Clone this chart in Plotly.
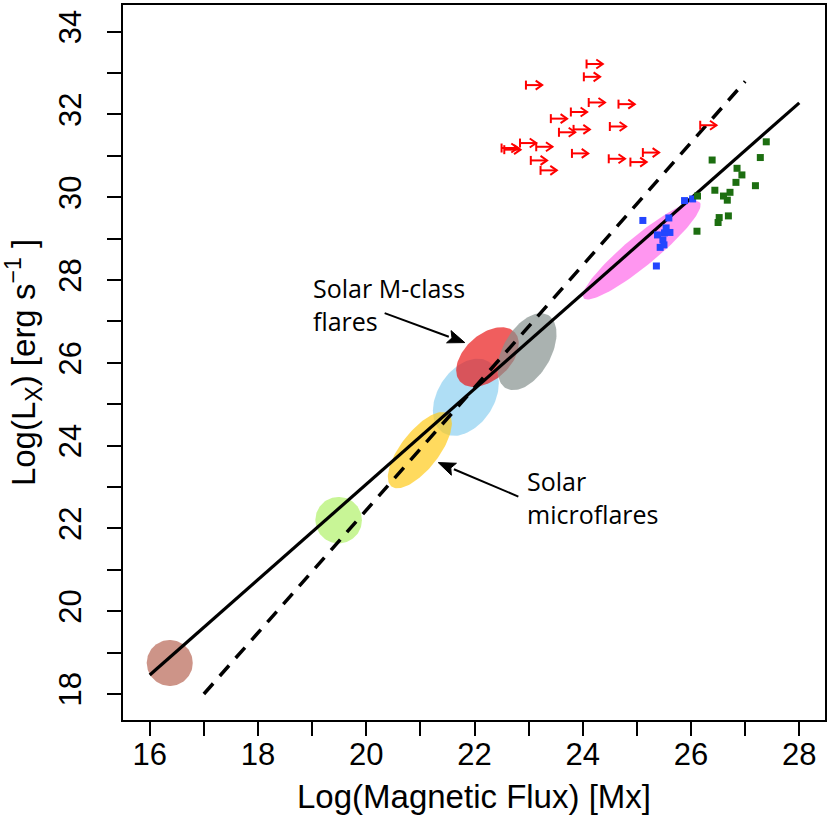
import numpy as np
import plotly.graph_objects as go

# ---------------- data ----------------
# best-fit relations (log flux -> log Lx)
solid_x = [16.0, 28.0]
solid_y = [18.46, 32.28]
dash_x = [17.0, 27.0]
dash_y = [18.0, 32.8]

# blue squares
blue_x = [25.88, 26.03, 25.11, 25.59, 25.61, 25.51, 25.38, 25.48, 25.43, 25.50, 25.36, 25.54]
blue_y = [29.92, 29.96, 29.44, 29.50, 29.15, 29.14, 29.09, 28.97, 28.79, 28.85, 28.34, 29.26]

# green squares
green_x = [27.39, 26.39, 27.28, 26.85, 26.94, 26.83, 27.19, 26.44, 26.72, 26.60, 26.67,
           26.12, 26.69, 26.52, 26.50, 26.11]
green_y = [31.34, 30.90, 30.96, 30.70, 30.54, 30.36, 30.28, 30.17, 30.12, 30.03, 29.93,
           30.03, 29.55, 29.51, 29.39, 29.18]

# red lower limits on flux (bar at value, arrow to the right)
lim_x = [24.07, 24.02, 22.95, 24.11, 24.66, 23.78, 23.41, 23.56, 23.83, 24.50, 22.50, 22.55,
         22.84, 23.14, 23.80, 24.48, 23.04, 23.22, 25.11, 24.88, 26.17]
lim_y = [33.22, 32.91, 32.71, 32.29, 32.25, 32.06, 31.90, 31.57, 31.64, 31.71, 31.19, 31.15,
         31.31, 31.22, 31.06, 30.93, 30.89, 30.65, 31.08, 30.85, 31.74]
lim_len = 0.3

# shaded regions (centre, semi-axes in x units, tilt in degrees)
ell_cx = [16.37, 19.49, 21.84, 20.99, 22.24, 22.97, 25.09]
ell_cy = [18.75, 22.20, 25.17, 23.89, 26.14, 26.27, 28.72]
ell_a = [0.425, 0.43, 0.78, 0.85, 0.68, 0.78, 1.39]
ell_b = [0.425, 0.43, 0.52, 0.35, 0.42, 0.44, 0.28]
ell_ang = [0, 0, 57, 52, 42, 60, 39.5]
ell_col = ["rgba(184,102,85,0.7)", "rgba(176,241,105,0.7)", "rgba(141,208,241,0.7)",
           "rgba(255,202,26,0.7)", "rgba(234,25,25,0.7)", "rgba(134,145,142,0.7)",
           "rgba(255,105,234,0.7)"]

# pointer labels: text position, arrow tail and head
lab_text = ["Solar M-class<br>flares", "Solar<br>microflares"]
lab_x = [18.98, 22.93]
lab_y = [27.42, 22.75]
ptr_x0 = [20.34, 22.81]
ptr_y0 = [27.20, 22.77]
ptr_x1 = [21.82, 21.33]
ptr_y1 = [26.49, 23.59]

# ---------------- layout geometry ----------------
W, H = 831, 829
ML, MR, MT, MB = 123, 6, 5, 109
XR = [15.506, 28.475]
YR = [17.372, 34.645]
sx = (W - ML - MR) / (XR[1] - XR[0])   # px per x unit
sy = (H - MT - MB) / (YR[1] - YR[0])   # px per y unit
k = sy / sx

fig = go.Figure()

t = np.linspace(0, 2 * np.pi, 120)
for cx, cy, a, b, ang, col in zip(ell_cx, ell_cy, ell_a, ell_b, ell_ang, ell_col):
    th = np.radians(ang)
    u = a * np.cos(t)
    v = b * np.sin(t)
    dx = u * np.cos(th) - v * np.sin(th)
    dy = (u * np.sin(th) + v * np.cos(th)) / k
    fig.add_trace(go.Scatter(x=cx + dx, y=cy + dy, mode="lines", fill="toself",
                             fillcolor=col, line=dict(width=0), hoverinfo="skip",
                             showlegend=False))

fig.add_trace(go.Scatter(x=solid_x, y=solid_y, mode="lines",
                         line=dict(color="black", width=3.2), showlegend=False))
fig.add_trace(go.Scatter(x=dash_x, y=dash_y, mode="lines",
                         line=dict(color="black", width=3.5, dash="14px,10px"),
                         showlegend=False))

fig.add_trace(go.Scatter(x=blue_x, y=blue_y, mode="markers",
                         marker=dict(symbol="square", size=7, color="#2345ff"),
                         showlegend=False))
fig.add_trace(go.Scatter(x=green_x, y=green_y, mode="markers",
                         marker=dict(symbol="square", size=7, color="#1c6e10"),
                         showlegend=False))

# limit symbols: bar + shaft + open head, built from lim_x / lim_y
bar_h = 4.5 / sy
head_l = 6.5 / sx
head_w = 4.5 / sy
sym_x, sym_y = [], []
for lx, ly in zip(lim_x, lim_y):
    tip = lx + lim_len
    sym_x += [lx, lx, None, lx, tip, None, tip - head_l, tip, tip - head_l, None]
    sym_y += [ly - bar_h, ly + bar_h, None, ly, ly, None, ly + head_w, ly, ly - head_w, None]
fig.add_trace(go.Scatter(x=sym_x, y=sym_y, mode="lines",
                         line=dict(color="red", width=2), hoverinfo="skip",
                         showlegend=False))

# pointer arrows (shaft + filled head)
for x0, y0, x1, y1 in zip(ptr_x0, ptr_y0, ptr_x1, ptr_y1):
    px, py = (x1 - x0) * sx, (y1 - y0) * sy
    L = np.hypot(px, py)
    ux, uy = px / L, py / L
    hl, hw = 17.0, 6.5
    bx, by = -ux * hl, -uy * hl
    nx, ny = -uy * hw, ux * hw
    base_x = x1 + bx / sx
    base_y = y1 + by / sy
    fig.add_trace(go.Scatter(x=[x0, base_x], y=[y0, base_y], mode="lines",
                             line=dict(color="black", width=2), hoverinfo="skip",
                             showlegend=False))
    fig.add_trace(go.Scatter(
        x=[x1, base_x + nx / sx, x1 + bx * 0.8 / sx, base_x - nx / sx, x1],
        y=[y1, base_y + ny / sy, y1 + by * 0.8 / sy, base_y - ny / sy, y1],
        mode="lines", fill="toself", fillcolor="black",
        line=dict(color="black", width=1), hoverinfo="skip", showlegend=False))

annotations = []
for tx, ty, tt in zip(lab_x, lab_y, lab_text):
    annotations.append(dict(x=tx, y=ty, xref="x", yref="y", text=tt,
                            showarrow=False, xanchor="left", yanchor="middle", align="left",
                            font=dict(family="Open Sans", size=25, color="black")))

axis_common = dict(showgrid=False, zeroline=False, showline=True, mirror=True,
                   linecolor="black", linewidth=1.5, ticks="outside", ticklen=14,
                   tickwidth=1.5, tickcolor="black", automargin=False,
                   tickfont=dict(family="Liberation Sans", size=31, color="black"))

fig.update_layout(
    width=W, height=H,
    margin=dict(l=ML, r=MR, t=MT, b=MB, pad=0, autoexpand=False),
    plot_bgcolor="white", paper_bgcolor="white",
    showlegend=False,
    annotations=annotations,
    xaxis=dict(range=XR, tick0=16, dtick=2,
               minor=dict(dtick=1, tick0=16, ticks="outside", ticklen=14, tickwidth=1.5,
                          tickcolor="black", showgrid=False),
               title=dict(text="Log(Magnetic Flux) [Mx]", standoff=14,
                          font=dict(family="Liberation Sans", size=33, color="black")),
               ticklabelstandoff=-8,
               **axis_common),
    yaxis=dict(range=YR, tick0=18, dtick=2, tickangle=-90,
               minor=dict(dtick=1, tick0=18, ticks="outside", ticklen=14, tickwidth=1.5,
                          tickcolor="black", showgrid=False),
               title=dict(text="Log(L<sub>X</sub>) [erg s<sup>−1</sup> ]", standoff=10,
                          font=dict(family="Liberation Sans", size=33, color="black")),
               ticklabelstandoff=14,
               **axis_common),
)

fig.write_html("out.html", config={"displayModeBar": False},
               post_script="document.body.style.margin='0';"
                           "document.body.style.overflow='hidden';")
